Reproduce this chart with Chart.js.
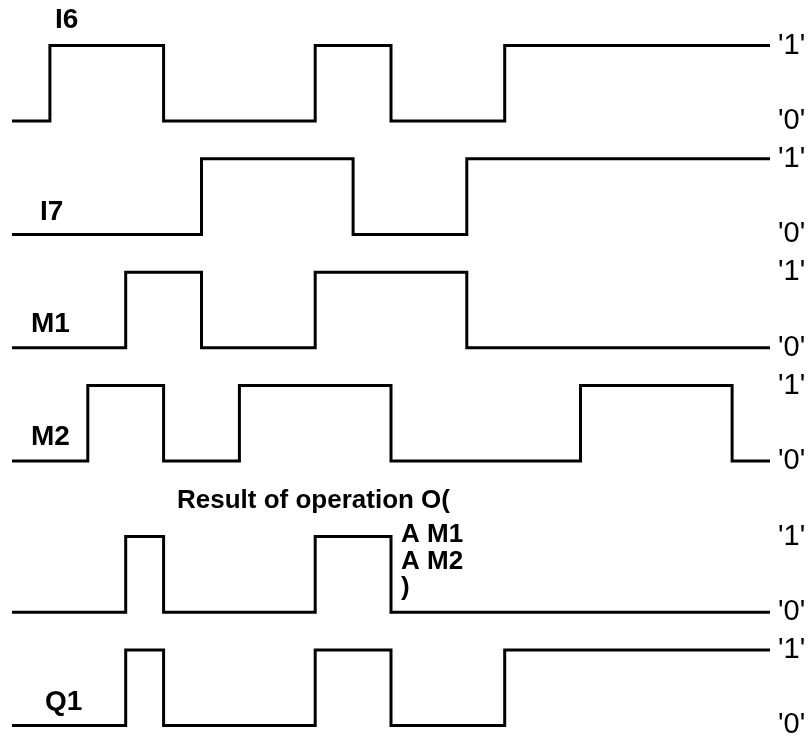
<!DOCTYPE html>
<html>
<head>
<meta charset="utf-8">
<script src="https://cdn.jsdelivr.net/npm/chart.js@4.4.1/dist/chart.umd.min.js"></script>
<style>
  body { margin: 0; background: #fff; }
  #wrap { width: 811px; height: 740px; position: relative; }
</style>
</head>
<body>
<div id="wrap"><canvas id="timing"></canvas></div>
<script>
// signal edges: time steps (clock ticks) and the level held from that time
const i6Times = [0, 1, 4, 8, 10, 13, 20];
const i6Levels = [0, 1, 0, 1, 0, 1, 1];
const i7Times = [0, 5, 9, 12, 20];
const i7Levels = [0, 1, 0, 1, 1];
const m1Times = [0, 3, 5, 8, 12, 20];
const m1Levels = [0, 1, 0, 1, 0, 0];
const m2Times = [0, 2, 4, 6, 10, 15, 19, 20];
const m2Levels = [0, 1, 0, 1, 0, 1, 0, 0];
const resTimes = [0, 3, 4, 8, 10, 20];
const resLevels = [0, 1, 0, 1, 0, 0];
const q1Times = [0, 3, 4, 8, 10, 13, 20];
const q1Levels = [0, 1, 0, 1, 0, 1, 1];

const signalNames = ["I6", "I7", "M1", "M2", "Result", "Q1"];
const levelLabels = ["'0'", "'1'"];
const resultText = ["Result of operation O(", "A M1", "A M2", ")"];

// vertical offset of each lane (in level units)
const laneOffset = [8, 6.5, 5, 3.5, 1.5, 0];

const allTimes = [i6Times, i7Times, m1Times, m2Times, resTimes, q1Times];
const allLevels = [i6Levels, i7Levels, m1Levels, m2Levels, resLevels, q1Levels];

const datasets = signalNames.map(function (name, i) {
  return {
    label: name,
    data: allTimes[i].map((t, k) => ({ x: t, y: allLevels[i][k] + laneOffset[i] })),
    borderColor: "#000",
    borderWidth: 3,
    pointRadius: 0,
    stepped: "before",
    fill: false,
    borderJoinStyle: "miter",
  };
});

// tick value -> label
const tickMap = {};
laneOffset.forEach(function (off) {
  tickMap[off] = levelLabels[0];
  tickMap[off + 1] = levelLabels[1];
});

const textPlugin = {
  id: "texts",
  afterDraw(chart) {
    const ctx = chart.ctx;
    ctx.save();
    ctx.fillStyle = "#000";
    ctx.textAlign = "left";
    ctx.textBaseline = "alphabetic";
    ctx.font = "bold 28px 'Liberation Sans', Arial, sans-serif";
    ctx.fillText(signalNames[0], 55, 28);
    ctx.fillText(signalNames[1], 40, 220);
    ctx.fillText(signalNames[2], 31, 332);
    ctx.fillText(signalNames[3], 31, 445);
    ctx.fillText(signalNames[5], 45, 710);
    ctx.font = "bold 26px 'Liberation Sans', Arial, sans-serif";
    ctx.fillText(resultText[0], 177, 508);
    ctx.fillText(resultText[1], 401, 542);
    ctx.fillText(resultText[2], 401, 569);
    ctx.fillText(resultText[3], 401, 595);
    ctx.restore();
  },
};

function main() {
  const ctx = document.getElementById("timing").getContext("2d");
  new Chart(ctx, {
    type: "line",
    data: { datasets: datasets },
    plugins: [textPlugin],
    options: {
      responsive: true,
      maintainAspectRatio: false,
      animation: false,
      layout: { padding: { left: 12, right: 0, top: 38, bottom: 7 } },
      plugins: { legend: { display: false }, tooltip: { enabled: false } },
      scales: {
        x: { type: "linear", min: 0, max: 20, display: false },
        y: {
          type: "linear",
          position: "right",
          min: -0.1,
          max: 9.1,
          grid: { display: false, drawTicks: false },
          border: { display: false },
          afterBuildTicks(scale) {
            scale.ticks = Object.keys(tickMap).map((v) => ({ value: Number(v) }));
          },
          afterFit(scale) {
            scale.width = 41;
            scale.paddingTop = 0;
            scale.paddingBottom = 0;
          },
          ticks: {
            autoSkip: false,
            padding: 8,
            color: "#000",
            font: { family: "'Liberation Sans', Arial, sans-serif", size: 29 },
            callback: (value) => tickMap[value],
          },
        },
      },
    },
  });
}

main();
</script>
</body>
</html>
